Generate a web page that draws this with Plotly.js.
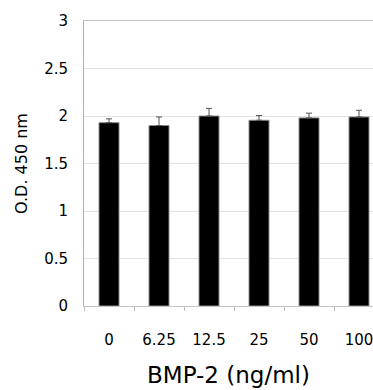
<!DOCTYPE html>
<html>
<head>
<meta charset="utf-8">
<script src="https://cdn.plot.ly/plotly-3.0.1.min.js"></script>
<style>html,body{margin:0;padding:0;background:#fff;}#chart{width:373px;height:390px;}</style>
</head>
<body>
<div id="chart"></div>
<script>
const categories = ["0", "6.25", "12.5", "25", "50", "100"];
const odValues = [1.93, 1.90, 2.00, 1.955, 1.98, 1.99];
const odErrors = [0.04, 0.09, 0.08, 0.05, 0.05, 0.07];
const yTicks = [0, 0.5, 1, 1.5, 2, 2.5, 3];
const yTickLabels = ["0", "0.5", "1", "1.5", "2", "2.5", "3"];

const trace = {
  type: "bar",
  x: categories,
  y: odValues,
  width: 0.4,
  marker: {color: "#000000", line: {color: "#8c8c8c", width: 1}},
  error_y: {type: "data", array: odErrors, arrayminus: odErrors.map(() => 0), symmetric: false,
            color: "#555555", thickness: 1, width: 3},
  hoverinfo: "none"
};

const layout = {
  width: 373, height: 390,
  margin: {l: 84, r: 0, t: 21, b: 84},
  paper_bgcolor: "#ffffff", plot_bgcolor: "#ffffff",
  showlegend: false,
  font: {family: "DejaVu Sans, sans-serif", color: "#000000"},
  xaxis: {
    type: "category",
    range: [-0.5, 5.28],
    tickson: "boundaries",
    ticks: "outside", ticklen: 4, tickcolor: "#bbbbbb",
    showline: true, mirror: true, linecolor: "#c4c4c4", linewidth: 1,
    showgrid: false, zeroline: false,
    tickfont: {size: 15},
    ticklabelstandoff: 20,
    title: {text: "BMP-2 (ng/ml)", font: {size: 23}, standoff: 18}
  },
  yaxis: {
    range: [0, 3],
    tickvals: yTicks, ticktext: yTickLabels,
    ticks: "", showline: true, linecolor: "#b0b0b0", linewidth: 1,
    showgrid: true, gridcolor: "#e2e2e2", gridwidth: 1,
    zeroline: false,
    tickfont: {size: 15},
    ticklabelstandoff: 12,
    title: {text: "O.D. 450 nm", font: {size: 16}, standoff: 12}
  }
};

Plotly.newPlot("chart", [trace], layout, {staticPlot: true, displayModeBar: false});
</script>
</body>
</html>
